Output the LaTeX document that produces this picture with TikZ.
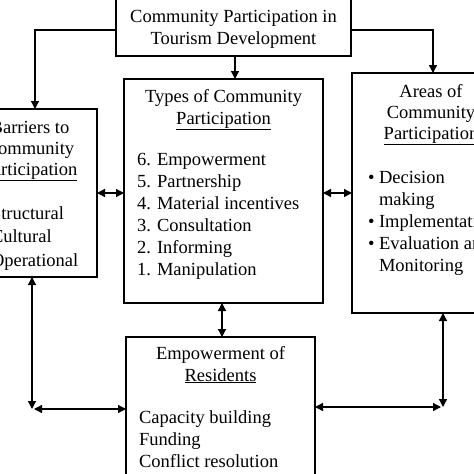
\documentclass[tikz,border=0pt]{standalone}
\usepackage{fontspec}
\setmainfont{Liberation Serif}
\usetikzlibrary{arrows.meta,calc}
\begin{document}
\begin{tikzpicture}[x=1pt,y=-1pt,
 box/.style={draw,line width=1.3pt,rectangle,inner sep=0pt,outer sep=0pt,anchor=north west},
 txt/.style={inner sep=0pt,outer sep=0pt,font=\fontsize{18.5}{22}\selectfont},
 tip/.tip={Triangle[length=8pt,width=8pt]},
 arr/.style={line width=1.3pt,-tip},
 darr/.style={line width=1.3pt,tip-tip}]
\useasboundingbox (0,0) rectangle (474,474);
\clip (0,0) rectangle (474,474);
% boxes
\node[box,minimum width=235pt,minimum height=58pt] (top) at (116,-2) {};
\node[box,minimum width=199pt,minimum height=224pt] (types) at (124,79) {};
\node[box,minimum width=134pt,minimum height=168pt] (barriers) at (-37,109) {};
\node[box,minimum width=158pt,minimum height=240pt] (areas) at (352,73) {};
\node[box,minimum width=189pt,minimum height=153pt] (emp) at (126,337) {};
% texts (anchor base = baseline of the last line)
\node[txt,anchor=base,align=center] (toptxt) at (233.5,44.5) {Community Participation in\\Tourism Development};
\node[txt,anchor=base,align=center] (typeshead) at (223.5,124) {Types of Community\\\underline{Participation}};
\node[txt,anchor=base west,align=left] (typeslist) at (137,275) {6. Empowerment\\5. Partnership\\4. Material incentives\\3. Consultation\\2. Informing\\1. Manipulation};
\node[txt,anchor=base,align=center,font=\fontsize{18.5}{21}\selectfont] (barhead) at (30,175) {Barriers to\\Community\\\underline{Participation}};
\node[txt,anchor=base west,align=left,font=\fontsize{18.5}{23.5}\selectfont] (barlist) at (-9,266) {Structural\\Cultural\\Operational};
\node[txt,anchor=base west,align=left,font=\fontsize{18.5}{23.5}\selectfont] (barbul) at (-21,266) {•\\•\\•};
\node[txt,anchor=base,align=center,font=\fontsize{18.5}{21}\selectfont] (areahead) at (431,139) {Areas of\\Community\\\underline{Participation}};
\node[txt,anchor=base west,align=left] (arealist) at (379,271) {Decision\\making\\Implementation\\Evaluation and\\Monitoring};
\node[txt,anchor=base west,align=left] (areabul) at (368,249) {•\\\strut\\•\\•};
\node[txt,anchor=base,align=center] (emphead) at (220.5,381) {Empowerment of\\\underline{Residents}};
\node[txt,anchor=base west,align=left] (emplist) at (139,467) {Capacity building\\Funding\\Conflict resolution};
% connectors
\draw[arr] ([yshift=-3pt]top.west) -| ([xshift=5pt]barriers.north);
\draw[arr] ([yshift=-3pt]top.east) -| ([xshift=2pt]areas.north);
\draw[arr] ([xshift=1.5pt]top.south) -- ([xshift=1.5pt]top.south |- types.north);
\draw[darr] (barriers.east) -- (barriers.east -| types.west);
\draw[darr] (types.east |- areas.west) -- (areas.west);
\draw[darr] ([xshift=-1.5pt]types.south) -- ([xshift=-1.5pt]types.south |- emp.north);
\coordinate (cl) at (32,409);
\coordinate (cr) at (443,407);
\draw[darr] (barriers.south -| cl) -- (cl);
\draw[darr] ([xshift=2pt]cl) -- (cl -| emp.west);
\draw[darr] (areas.south -| cr) -- (cr);
\draw[darr] (cr -| emp.east) -- ([xshift=-2pt]cr);
\end{tikzpicture}
\end{document}
